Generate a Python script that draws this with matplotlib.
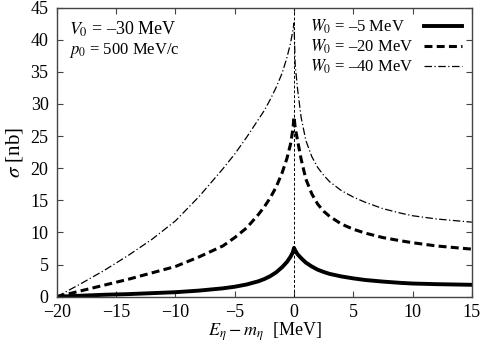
import numpy as np
from matplotlib import pyplot as plt

# values
x = [-20, -18, -16, -14, -12, -10, -8, -6, -5, -4, -3, -2.5, -2, -1.5, -1, -0.6, -0.3, -0.1, 0,
     0.1, 0.3, 0.6, 1, 1.5, 2, 2.5, 3, 4, 5, 6, 7.5, 9, 10, 12, 15]

sigma_w5 = [0, 0.15, 0.3, 0.4, 0.55, 0.7, 0.95, 1.3, 1.55, 1.9, 2.4, 2.75, 3.2, 3.8, 4.6, 5.4, 6.2, 6.9, 7.6,
            7.2, 6.6, 6.0, 5.3, 4.7, 4.2, 3.85, 3.55, 3.15, 2.85, 2.6, 2.35, 2.15, 2.05, 1.95, 1.85]
sigma_w20 = [0, 0.9, 1.8, 2.7, 3.7, 4.7, 6.2, 7.9, 9.2, 10.7, 12.8, 14.0, 15.4, 17.1, 19.3, 21.5, 23.7, 26.0, 28.0,
             26.3, 24.3, 21.4, 18.3, 16.0, 14.4, 13.3, 12.5, 11.3, 10.5, 9.9, 9.2, 8.7, 8.4, 7.9, 7.4]
sigma_w40 = [0, 2.0, 4.1, 6.4, 8.9, 11.8, 15.6, 19.9, 22.2, 24.8, 27.6, 29.0, 30.7, 32.6, 34.8, 37.2, 39.4, 41.4, 42.6,
             36.0, 32.3, 27.9, 24.3, 21.8, 20.1, 18.9, 17.9, 16.5, 15.5, 14.7, 13.7, 13.0, 12.6, 12.1, 11.6]

labels = ["$W_0$ = \u20135 MeV", "$W_0$ = \u201320 MeV", "$W_0$ = \u201340 MeV"]
xticks = [-20, -15, -10, -5, 0, 5, 10, 15]
yticks = [0, 5, 10, 15, 20, 25, 30, 35, 40, 45]

plt.rcParams["font.family"] = ["Liberation Serif", "DejaVu Serif"]
plt.rcParams["mathtext.fontset"] = "stix"

fig = plt.figure(figsize=(4.82, 3.43), dpi=100)
ax = fig.add_axes([0.118, 0.135, 0.861, 0.843])

ax.axvline(0, color="black", lw=0.7, ls=(0, (3, 2)))

ax.plot(x, sigma_w5, color="black", lw=2.8, label=labels[0])
ax.plot(x, sigma_w20, color="black", lw=2.2, ls=(0, (2.6, 1.4)), label=labels[1])
ax.plot(x, sigma_w40, color="black", lw=0.9, ls=(0, (6, 2, 1, 2)), label=labels[2])

ax.set_xlim(-20, 15)
ax.set_ylim(0, 45)
ax.set_xticks(xticks)
ax.set_yticks(yticks)
ax.tick_params(direction="in", top=True, right=True, length=4, labelsize=13,
               color="#444444")
ax.tick_params(axis="y", pad=6)
ax.tick_params(axis="x", pad=5)
for sp in ax.spines.values():
    sp.set_color("#444444")
    sp.set_linewidth(1.0)

ax.set_xlabel(r"$E_\eta - m_\eta$  [MeV]", fontsize=13)
ax.xaxis.set_label_coords(0.5, -0.082)
ax.set_ylabel(r"$\sigma$ [nb]", fontsize=15, labelpad=4)

ax.text(0.03, 0.96, "$V_0$ = \u201330 MeV", transform=ax.transAxes,
        fontsize=13, va="top")
ax.text(0.03, 0.885, "$p_0$ = 500 MeV/c", transform=ax.transAxes,
        fontsize=12, va="top")

leg = ax.legend(loc="upper right", frameon=False, markerfirst=False, fontsize=12,
                handlelength=2.3, handletextpad=0.6, labelspacing=0.1,
                borderaxespad=0.2)

# gnuplot-style key: texts left aligned, samples on the right
fig.canvas.draw()
exts = [t.get_window_extent() for t in leg.get_texts()]
left = min(e.x0 for e in exts)
for t, e in zip(leg.get_texts(), exts):
    t.set_x(t.get_position()[0] - (e.x0 - left))

plt.savefig("out.png", dpi=100)
